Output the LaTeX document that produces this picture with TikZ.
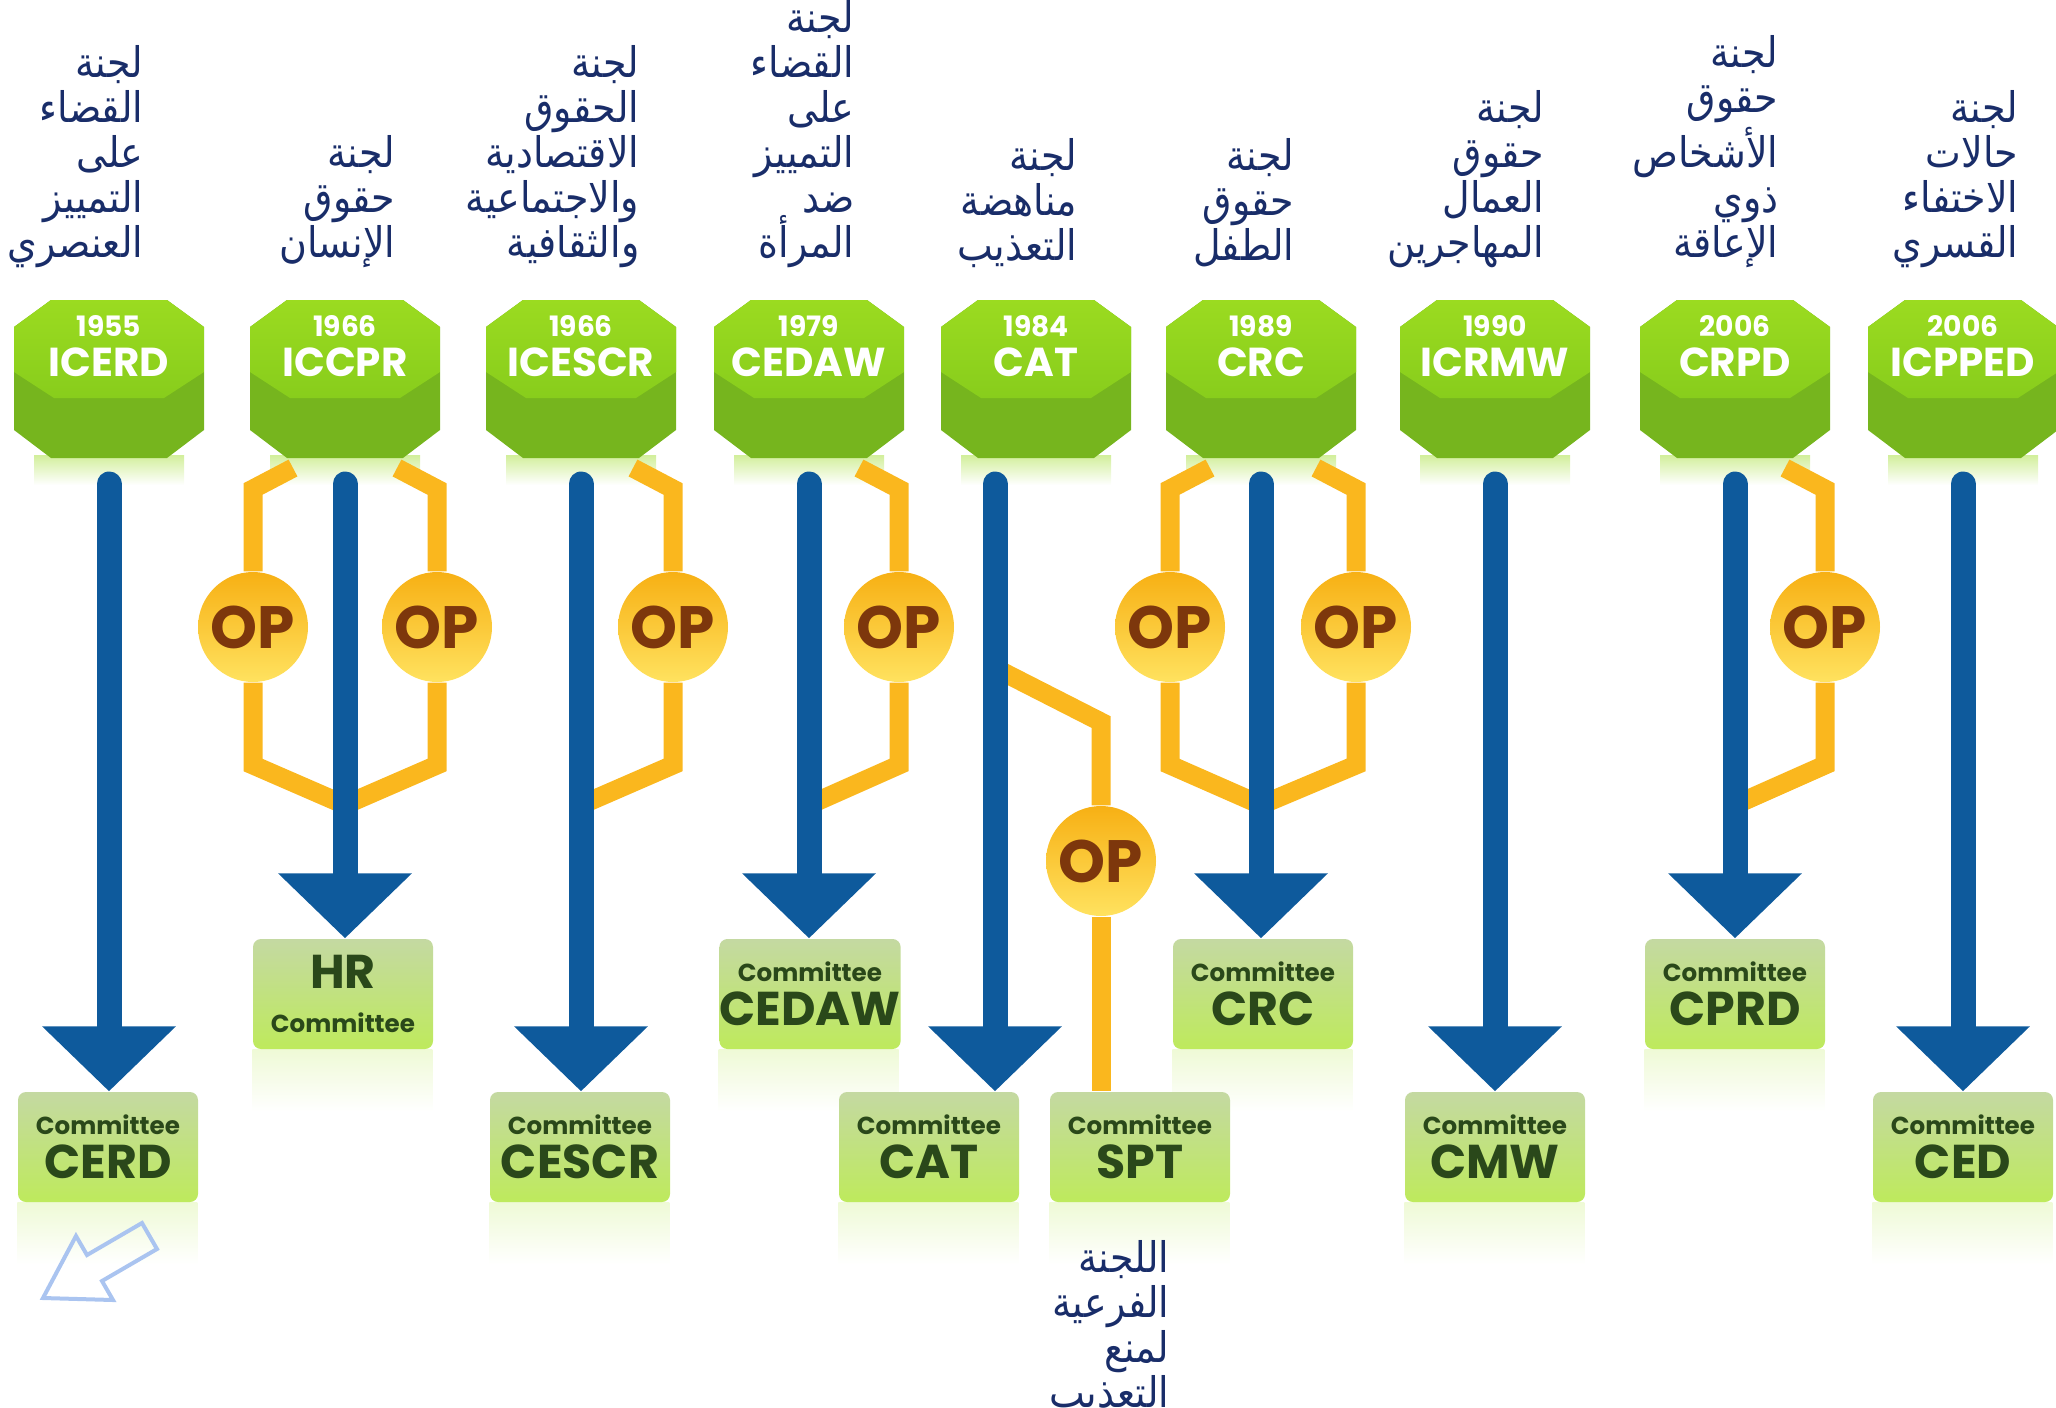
\documentclass[tikz,border=0pt]{standalone}
\usepackage{fontspec}
\setmainfont{DejaVu Sans}
\newfontfamily\arabicfont[Script=Arabic,FakeStretch=0.9]{DejaVu Sans}
\newfontfamily\montfont{Poppins}
\TeXXeTstate=1
\usetikzlibrary{arrows.meta,backgrounds,calc}
\newcommand\arl[1]{\beginR#1\endR}

\definecolor{navy}{RGB}{25,45,105}
\definecolor{treatyblue}{RGB}{14,90,156}
\definecolor{opyellow}{RGB}{250,183,30}
\definecolor{optop}{RGB}{247,176,20}
\definecolor{opbottom}{RGB}{255,226,95}
\definecolor{opbrown}{RGB}{125,55,12}
\definecolor{hexlight}{RGB}{155,219,32}
\definecolor{hexmid}{RGB}{136,205,28}
\definecolor{hexdark}{RGB}{118,181,30}
\definecolor{boxtop}{RGB}{196,217,162}
\definecolor{boxbottom}{RGB}{190,234,92}
\definecolor{boxtext}{RGB}{42,72,26}
\definecolor{arrowicon}{RGB}{170,196,240}

\tikzset{
  arlabel/.style={font=\arabicfont\fontsize{12}{12.8}\selectfont, text=navy, align=right, inner sep=0pt},
  treatytext/.style={font=\montfont\bfseries\fontsize{11.5}{11.4}\selectfont, text=white, align=center, inner sep=0pt},
  committee/.style={rounded corners=0.8mm, minimum width=18mm, minimum height=11mm, top color=boxtop, bottom color=boxbottom, text=boxtext, font=\montfont\bfseries\fontsize{13.5}{12.5}\selectfont, align=center, inner sep=0pt},
  op/.style={circle, minimum size=11mm, inner sep=0pt, top color=optop, bottom color=opbottom, text=opbrown, font=\montfont\bfseries\fontsize{17}{17}\selectfont},
  treatyline/.style={draw=treatyblue, line width=2.5mm, line cap=round, -{Triangle[width=13mm,length=6.5mm]}},
  opline/.style={draw=opyellow, line width=1.9mm, line join=miter},
  mirror/.style={top color=boxbottom!25, bottom color=white},
  glow/.style={top color=hexlight!45, bottom color=white}
}

\begin{document}
\begin{tikzpicture}[x=0.1mm,y=-0.1mm]
  \useasboundingbox (0,0) rectangle (2056,1407);

  % treaties
  \foreach \cx/\yr/\ab/\nm in {109/1955/ICERD/icerd, 345/1966/ICCPR/iccpr, 581/1966/ICESCR/icescr,
      809/1979/CEDAW/cedaw, 1036/1984/CAT/cat, 1261/1989/CRC/crc, 1495/1990/ICRMW/icrmw,
      1735/2006/CRPD/crpd, 1963/2006/ICPPED/icpped}{
    \fill[hexdark, shift={(\cx,0)}] (-95,327) -- (-58,300) -- (58,300) -- (95,327) -- (95,430)
      -- (58,458) -- (-58,458) -- (-95,430) -- cycle;
    \shade[shift={(\cx,0)}, top color=hexlight, bottom color=hexmid] (-95,327) -- (-58,300) -- (58,300)
      -- (95,327) -- (95,372) -- (55,398) -- (-55,398) -- (-95,372) -- cycle;
    \node[treatytext] (\nm) at (\cx,346) {{\fontsize{8}{8}\selectfont\yr}\\\ab};
  }

  % arabic names
  \node[arlabel, anchor=south east] (lab-icerd) at (144,268)
    {\arl{لجنة}\\\arl{القضاء}\\\arl{على}\\\arl{التمييز}\\\arl{العنصري}};
  \node[arlabel, anchor=south east] (lab-iccpr) at (396,268)
    {\arl{لجنة}\\\arl{حقوق}\\\arl{الإنسان}};
  \node[arlabel, anchor=south east] (lab-icescr) at (640,268)
    {\arl{لجنة}\\\arl{الحقوق}\\\arl{الاقتصادية}\\\arl{والاجتماعية}\\\arl{والثقافية}};
  \node[arlabel, anchor=south east] (lab-cedaw) at (855,268)
    {\arl{لجنة}\\\arl{القضاء}\\\arl{على}\\\arl{التمييز}\\\arl{ضد}\\\arl{المرأة}};
  \node[arlabel, anchor=south east] (lab-cat) at (1078,268)
    {\arl{لجنة}\\\arl{مناهضة}\\\arl{التعذيب}};
  \node[arlabel, anchor=south east] (lab-crc) at (1295,268)
    {\arl{لجنة}\\\arl{حقوق}\\\arl{الطفل}};
  \node[arlabel, anchor=south east] (lab-icrmw) at (1545,268)
    {\arl{لجنة}\\\arl{حقوق}\\\arl{العمال}\\\arl{المهاجرين}};
  \node[arlabel, anchor=south east] (lab-crpd) at (1779,268)
    {\arl{لجنة}\\\arl{حقوق}\\\arl{الأشخاص}\\\arl{ذوي}\\\arl{الإعاقة}};
  \node[arlabel, anchor=south east] (lab-icpped) at (2019,268)
    {\arl{لجنة}\\\arl{حالات}\\\arl{الاختفاء}\\\arl{القسري}};
  \node[arlabel, anchor=north east] (lab-spt) at (1170,1240)
    {\arl{اللجنة}\\\arl{الفرعية}\\\arl{لمنع}\\\arl{التعذيب}};

  % committees
  \node[committee] (hrc) at (343,994) {HR\\{\fontsize{7}{8}\selectfont Committee}};
  \node[committee] (cedawc) at (810,994) {{\fontsize{7}{8}\selectfont Committee}\\CEDAW};
  \node[committee] (crcc) at (1263,994) {{\fontsize{7}{8}\selectfont Committee}\\CRC};
  \node[committee] (cprd) at (1735,994) {{\fontsize{7}{8}\selectfont Committee}\\CPRD};
  \node[committee] (cerd) at (108,1147) {{\fontsize{7}{8}\selectfont Committee}\\CERD};
  \node[committee] (cescr) at (580,1147) {{\fontsize{7}{8}\selectfont Committee}\\CESCR};
  \node[committee] (catc) at (929,1147) {{\fontsize{7}{8}\selectfont Committee}\\CAT};
  \node[committee] (sptc) at (1140,1147) {{\fontsize{7}{8}\selectfont Committee}\\SPT};
  \node[committee] (cmw) at (1495,1147) {{\fontsize{7}{8}\selectfont Committee}\\CMW};
  \node[committee] (ced) at (1963,1147) {{\fontsize{7}{8}\selectfont Committee}\\CED};

  % optional protocols
  \node[op] (op1) at (253,627) {OP};
  \node[op] (op2) at (437,627) {OP};
  \node[op] (op3) at (673,627) {OP};
  \node[op] (op4) at (899,627) {OP};
  \node[op] (op5) at (1101,861) {OP};
  \node[op] (op6) at (1170,627) {OP};
  \node[op] (op7) at (1356,627) {OP};
  \node[op] (op8) at (1825,627) {OP};
  \coordinate (catx) at (995,484);

  \begin{scope}[on background layer]
    \foreach \t in {icerd,iccpr,icescr,cedaw,cat,crc,icrmw,crpd,icpped}
      \shade[glow] ($(\t |- 0,455)+(-75,0)$) rectangle ++(150,30);
    \foreach \b in {hrc,cedawc,crcc,cprd,cerd,cescr,catc,sptc,cmw,ced}
      \shade[mirror] (\b.south west) rectangle ++(180,62);
    \draw[opline] (op1) -- ++(0,-138) -- ++(40,-21);
    \draw[opline] (op1) -- ++(0,138) -- (iccpr |- 0,805);
    \draw[opline] (op2) -- ++(0,-138) -- ++(-40,-21);
    \draw[opline] (op2) -- ++(0,138) -- (iccpr |- 0,805);
    \draw[opline] (op3) -- ++(0,-138) -- ++(-40,-21);
    \draw[opline] (op3) -- ++(0,138) -- (icescr |- 0,805);
    \draw[opline] (op4) -- ++(0,-138) -- ++(-40,-21);
    \draw[opline] (op4) -- ++(0,138) -- (cedaw |- 0,805);
    \draw[opline] (catx |- 0,668) -- (op5 |- 0,722) -- (op5);
    \draw[opline] (op5) -- (op5 |- sptc.north);
    \draw[opline] (op6) -- ++(0,-138) -- ++(40,-21);
    \draw[opline] (op6) -- ++(0,138) -- (crc |- 0,805);
    \draw[opline] (op7) -- ++(0,-138) -- ++(-40,-21);
    \draw[opline] (op7) -- ++(0,138) -- (crc |- 0,805);
    \draw[opline] (op8) -- ++(0,-138) -- ++(-40,-21);
    \draw[opline] (op8) -- ++(0,138) -- (crpd |- 0,805);

    % treaty to committee
    \draw[treatyline] (icerd |- 0,484) -- (icerd |- cerd.north);
    \draw[treatyline] (iccpr |- 0,484) -- (iccpr |- hrc.north);
    \draw[treatyline] (icescr |- 0,484) -- (icescr |- cescr.north);
    \draw[treatyline] (cedaw |- 0,484) -- (cedaw |- cedawc.north);
    \draw[treatyline] (catx) -- (catx |- catc.north);
    \draw[treatyline] (crc |- 0,484) -- (crc |- crcc.north);
    \draw[treatyline] (icrmw |- 0,484) -- (icrmw |- cmw.north);
    \draw[treatyline] (crpd |- 0,484) -- (crpd |- cprd.north);
    \draw[treatyline] (icpped |- 0,484) -- (icpped |- ced.north);
  \end{scope}

  \draw[arrowicon, line width=0.4mm] (43,1298) -- (76,1236) -- (87,1255) -- (142,1223)
    -- (157,1249) -- (102,1281) -- (113,1300) -- cycle;
\end{tikzpicture}
\end{document}
